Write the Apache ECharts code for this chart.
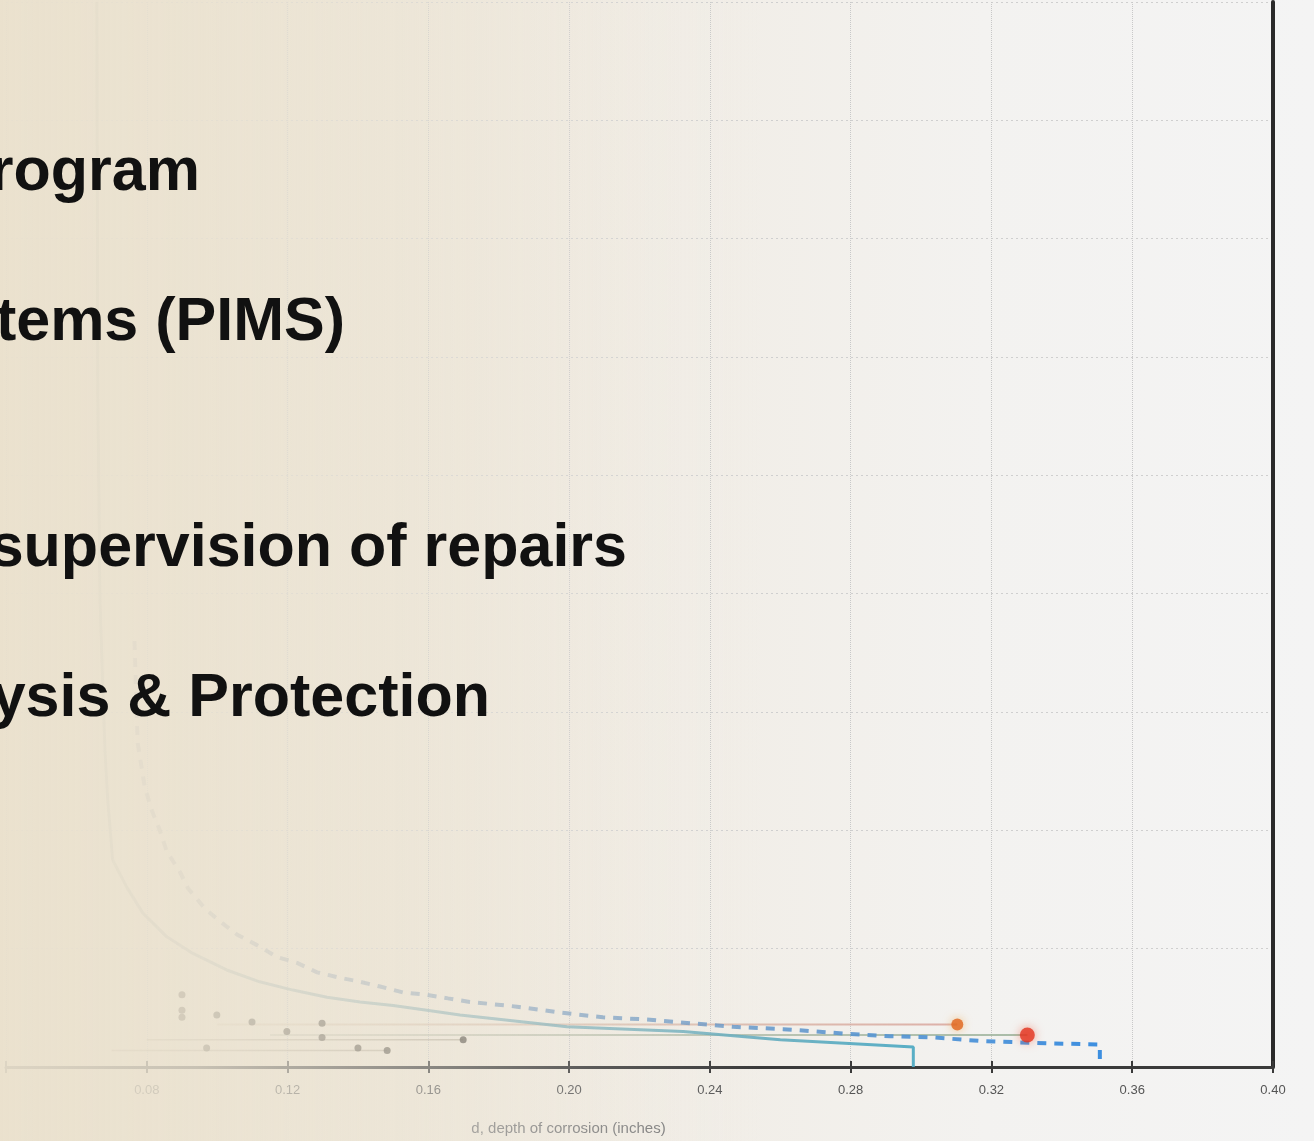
<!DOCTYPE html>
<html>
<head>
<meta charset="utf-8">
<script src="https://cdn.jsdelivr.net/npm/echarts@6/dist/echarts.min.js"></script>
<style>
html,body{margin:0;padding:0;}
#chart{width:1314px;height:1141px;background:linear-gradient(to right,#e9dfca 0%,#ece4d4 30%,#f1ede6 52%,#f3f2f0 75%,#f4f4f4 100%);}
</style>
</head>
<body>
<div id="chart"></div>
<script>
// ---- data ----
const xTicks = [0.04, 0.08, 0.12, 0.16, 0.20, 0.24, 0.28, 0.32, 0.36, 0.40];
const xAxisName = 'd, depth of corrosion (inches)';
const slideLines = ['rogram', 'tems (PIMS)', 'supervision of repairs', 'ysis & Protection'];

// solid acceptance curve [d, L]
const solidCurve = [
  [0.0658, 9.0], [0.0661, 5.64], [0.0667, 3.95], [0.0681, 2.68], [0.0689, 2.26],
  [0.0703, 1.75], [0.0743, 1.52], [0.0789, 1.30],
  [0.0857, 1.10], [0.0931, 0.96], [0.1027, 0.82], [0.1121, 0.72], [0.1215, 0.65],
  [0.1312, 0.59], [0.1406, 0.55], [0.1500, 0.52], [0.1596, 0.48], [0.1690, 0.44],
  [0.1994, 0.34], [0.2324, 0.30], [0.2600, 0.23], [0.2978, 0.17], [0.2978, 0.0]
];
// dashed acceptance curve [d, L]
const dashedCurve = [
  [0.0765, 3.6], [0.0774, 2.74], [0.0794, 2.37], [0.0814, 2.17], [0.0837, 2.00], [0.0857, 1.82],
  [0.0894, 1.65], [0.0917, 1.51], [0.0965, 1.34], [0.1008, 1.23], [0.1056, 1.12],
  [0.1113, 1.03], [0.1170, 0.93], [0.1227, 0.88], [0.1284, 0.80], [0.1340, 0.76],
  [0.1406, 0.72], [0.1463, 0.68], [0.1528, 0.63], [0.1596, 0.61], [0.1656, 0.58],
  [0.1718, 0.55], [0.1852, 0.51], [0.1974, 0.46], [0.2096, 0.42], [0.2230, 0.40],
  [0.2344, 0.37], [0.2466, 0.34], [0.2608, 0.32], [0.2790, 0.28], [0.2912, 0.26],
  [0.3034, 0.25], [0.3168, 0.22], [0.3359, 0.20], [0.3508, 0.19], [0.3508, 0.0]
];
// measured anomalies [d, L]
const anomalies = [
  [0.0900, 0.61], [0.0900, 0.48], [0.0900, 0.42], [0.0999, 0.44], [0.1099, 0.38],
  [0.1198, 0.30], [0.1298, 0.37], [0.1298, 0.25], [0.1400, 0.16], [0.1483, 0.14],
  [0.1699, 0.23], [0.0970, 0.16]
];
const trackA = [[0.1000, 0.36], [0.3103, 0.36]];
const trackB = [[0.1150, 0.27], [0.3302, 0.27]];
const trackC = [[0.0800, 0.23], [0.1699, 0.23]];
const trackD = [[0.0700, 0.14], [0.1483, 0.14]];
const orangePoint = [[0.3103, 0.36]];
const redPoint = [[0.3302, 0.27]];

const chart = echarts.init(document.getElementById('chart'), null, {renderer: 'canvas'});
const F = "'Liberation Sans', Arial, Helvetica, sans-serif";

const hGrad = (c0, c1) => new echarts.graphic.LinearGradient(0, 0, 1, 0, [{offset: 0, color: c0}, {offset: 1, color: c1}]);

const option = {
  backgroundColor: 'transparent',
  animation: false,
  grid: {left: 6, right: 41, top: 2, bottom: 74, containLabel: false},
  xAxis: [{
    type: 'value', min: 0.04, max: 0.40, interval: 0.04,
    name: xAxisName, nameLocation: 'middle', nameGap: 54,
    nameTextStyle: {color: '#7a7a7a', fontSize: 15, fontFamily: F, padding: [0, 142, 0, 0]},
    axisLine: {show: true, lineStyle: {color: '#3a3a3a', width: 3}},
    axisTick: {show: true, length: 6, lineStyle: {color: '#3a3a3a', width: 2}},
    axisLabel: {color: '#555', fontSize: 13, fontFamily: F, margin: 17,
      formatter: v => xTicks.indexOf(Math.round(v * 100) / 100) >= 1 ? v.toFixed(2) : ''},
    splitLine: {show: true, lineStyle: {color: '#c8c8c8', type: 'dotted', width: 1}}
  }, {
    type: 'value', min: 0.04, max: 0.40, interval: 0.04, position: 'bottom',
    axisLine: {show: false}, axisLabel: {show: false}, splitLine: {show: false},
    axisTick: {show: true, inside: true, length: 6, lineStyle: {color: '#3a3a3a', width: 2}}
  }],
  yAxis: [{
    type: 'value', min: 0, max: 9, interval: 1, position: 'right',
    axisLine: {show: true, lineStyle: {color: '#2a2a2a', width: 4}},
    axisTick: {show: false}, axisLabel: {show: false},
    splitLine: {show: true, lineStyle: {color: '#cfcfcf', type: [2, 3], width: 1}}
  }],
  series: [
    {type: 'line', data: trackD, symbol: 'none', lineStyle: {color: 'rgba(150,140,120,0.5)', width: 1.5}, z: 2},
    {type: 'line', data: trackC, symbol: 'none', lineStyle: {color: 'rgba(150,140,120,0.5)', width: 1.5}, z: 2},
    {type: 'line', data: trackA, symbol: 'none', lineStyle: {color: hGrad('rgba(200,180,150,0.4)', 'rgba(215,160,150,0.8)'), width: 2}, z: 2},
    {type: 'line', data: trackB, symbol: 'none', lineStyle: {color: hGrad('rgba(170,170,150,0.4)', 'rgba(150,175,150,0.8)'), width: 2}, z: 2},
    {type: 'line', data: solidCurve, symbol: 'none', clip: true,
      lineStyle: {color: hGrad('rgba(175,175,165,0.6)', 'rgba(80,170,195,0.95)'), width: 3}, z: 3},
    {type: 'line', data: dashedCurve, symbol: 'none', clip: true,
      lineStyle: {color: hGrad('rgba(160,160,160,0.55)', '#3d8fe0'), width: 4, type: [9, 8]}, z: 4},
    {type: 'scatter', data: anomalies, symbol: 'circle', symbolSize: 7,
      itemStyle: {color: '#4e493e'}, z: 5},
    {type: 'scatter', data: orangePoint, symbol: 'circle', symbolSize: 12,
      itemStyle: {color: '#e0641c', shadowColor: 'rgba(240,160,60,0.7)', shadowBlur: 8}, z: 6},
    {type: 'scatter', data: redPoint, symbol: 'circle', symbolSize: 15,
      itemStyle: {color: '#e2321e', shadowColor: 'rgba(240,90,60,0.7)', shadowBlur: 10}, z: 6}
  ],
  graphic: [
    {type: 'rect', z: 50, silent: true, shape: {x: 0, y: 0, width: 1314, height: 1141},
      style: {fill: new echarts.graphic.LinearGradient(0, 0, 1, 0, [
        {offset: 0, color: 'rgba(234,225,206,0.93)'},
        {offset: 0.15, color: 'rgba(235,227,210,0.8)'},
        {offset: 0.3, color: 'rgba(237,231,218,0.5)'},
        {offset: 0.45, color: 'rgba(240,236,228,0.18)'},
        {offset: 0.58, color: 'rgba(241,238,233,0)'},
        {offset: 1, color: 'rgba(244,244,244,0)'}
      ])}},
    {type: 'text', z: 60, style: {x: 200, y: 173, text: slideLines[0], textAlign: 'right', verticalAlign: 'middle', font: 'bold 61px ' + F, fill: '#111'}},
    {type: 'text', z: 60, style: {x: 345, y: 323, text: slideLines[1], textAlign: 'right', verticalAlign: 'middle', font: 'bold 61px ' + F, fill: '#111'}},
    {type: 'text', z: 60, style: {x: 627, y: 549, text: slideLines[2], textAlign: 'right', verticalAlign: 'middle', font: 'bold 61px ' + F, fill: '#111'}},
    {type: 'text', z: 60, style: {x: 490, y: 699, text: slideLines[3], textAlign: 'right', verticalAlign: 'middle', font: 'bold 61px ' + F, fill: '#111'}}
  ]
};
chart.setOption(option);
</script>
</body>
</html>
